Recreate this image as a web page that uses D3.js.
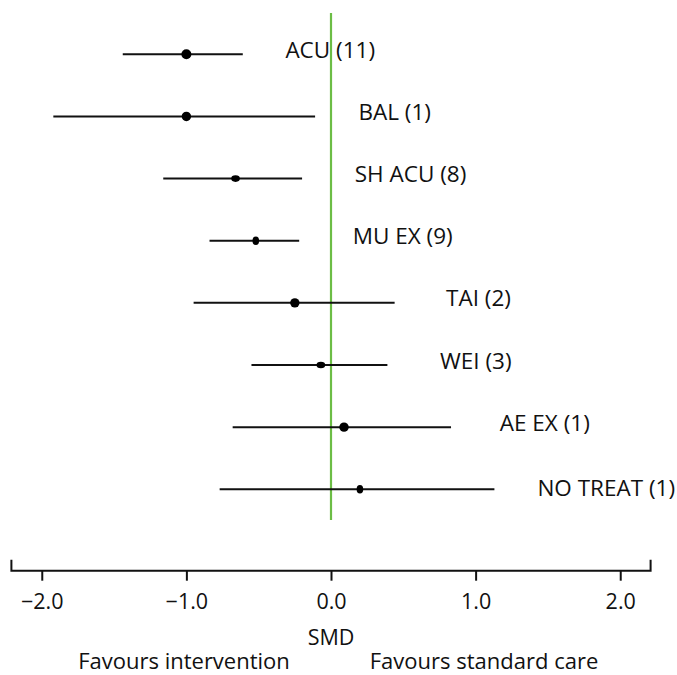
<!DOCTYPE html>
<html>
<head>
<meta charset="utf-8">
<script src="https://cdn.jsdelivr.net/npm/d3@7"></script>
<style>
  html, body { margin: 0; padding: 0; background: #fff; }
  svg { display: block; font-family: "Open Sans", "Noto Sans", sans-serif; }
</style>
</head>
<body>
<svg id="chart" width="677" height="675"></svg>
<script>
// ---- data ----
const categories = ["ACU (11)", "BAL (1)", "SH ACU (8)", "MU EX (9)", "TAI (2)", "WEI (3)", "AE EX (1)", "NO TREAT (1)"];
const smd   = [-1.00, -1.00, -0.66, -0.52, -0.25, -0.07, 0.09, 0.20];
const lower = [-1.44, -1.92, -1.16, -0.84, -0.95, -0.55, -0.68, -0.77];
const upper = [-0.61, -0.11, -0.20, -0.22, 0.44, 0.39, 0.83, 1.13];
const tickValues = [-2, -1, 0, 1, 2];
const tickLabels = ["\u22122.0", "\u22121.0", "0.0", "1.0", "2.0"];
const axisTitle = "SMD";
const leftNote = "Favours intervention";
const rightNote = "Favours standard care";

// ---- layout (not data) ----
const markerRx = [5, 4.7, 4.3, 3.3, 4.7, 4.3, 4.7, 3.3];
const markerRy = [5, 4.7, 3.3, 4.3, 4.7, 3.3, 4.7, 4.3];
const labelDx  = [42.6, 43.3, 52.7, 53.6, 51.4, 52.6, 48.7, 43];
const labelDy  = [4, 3.5, 3.5, 3.5, 3.5, 3.5, 3.5, 7];
const axisY = 570.7;

const svg = d3.select("#chart");
const x = d3.scaleLinear().domain([-2.21, 2.21]).range([11.4, 650.6]);
const y = d3.scalePoint().domain(categories).range([54.3, 489.3]);

const rows = categories.map((c, i) => ({ c, i, m: smd[i], lo: lower[i], hi: upper[i] }));

// reference line at 0
svg.append("line")
  .attr("x1", x(0)).attr("x2", x(0))
  .attr("y1", 13).attr("y2", 520)
  .attr("stroke", "#6cbd45").attr("stroke-width", 2.2);

// CI lines
svg.append("g").selectAll("line").data(rows).join("line")
  .attr("x1", d => x(d.lo)).attr("x2", d => x(d.hi))
  .attr("y1", d => y(d.c)).attr("y2", d => y(d.c))
  .attr("stroke", "#111").attr("stroke-width", 2);

// point estimates
svg.append("g").selectAll("ellipse").data(rows).join("ellipse")
  .attr("cx", d => x(d.m)).attr("cy", d => y(d.c))
  .attr("rx", d => markerRx[d.i]).attr("ry", d => markerRy[d.i])
  .attr("fill", "#000");

// labels
svg.append("g").selectAll("text").data(rows).join("text")
  .attr("x", d => x(d.hi) + labelDx[d.i])
  .attr("y", d => y(d.c) + labelDy[d.i])
  .attr("font-size", 22.5)
  .attr("fill", "#111")
  .text(d => d.c);

// axis
const axis = d3.axisBottom(x)
  .tickValues(tickValues)
  .tickFormat((d, i) => tickLabels[i])
  .tickSize(10)
  .tickSizeOuter(0)
  .tickPadding(13);
const gAxis = svg.append("g").attr("transform", `translate(0,${axisY})`).call(axis);
gAxis.select(".domain").remove();
gAxis.selectAll(".tick line").attr("stroke", "#111").attr("stroke-width", 2);
gAxis.selectAll(".tick text").attr("font-size", 21.5).attr("fill", "#111")
  .attr("font-family", "'Open Sans', 'Noto Sans', sans-serif");
const [r0, r1] = x.range();
gAxis.append("path")
  .attr("d", `M${r0},-11V0H${r1}V-11`)
  .attr("fill", "none").attr("stroke", "#111").attr("stroke-width", 2);

// titles
svg.append("text").attr("x", x(0)).attr("y", 645).attr("text-anchor", "middle")
  .attr("font-size", 21.5).attr("fill", "#111").text(axisTitle);
svg.append("text").attr("x", 184).attr("y", 669).attr("text-anchor", "middle")
  .attr("font-size", 22).attr("fill", "#111").text(leftNote);
svg.append("text").attr("x", 484).attr("y", 669).attr("text-anchor", "middle")
  .attr("font-size", 22).attr("fill", "#111").text(rightNote);
</script>
</body>
</html>
